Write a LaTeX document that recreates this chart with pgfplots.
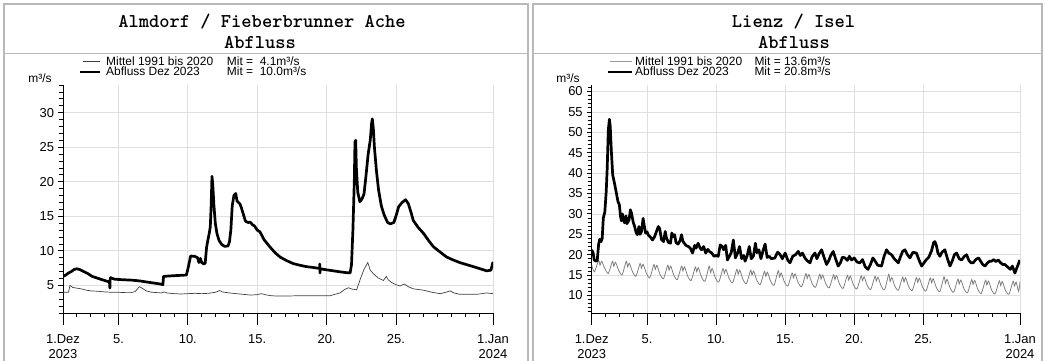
\documentclass[border=0pt]{standalone}
\usepackage{fontspec}
\setmainfont{Liberation Sans}
\usepackage{pgfplots}
\pgfplotsset{compat=1.18}

\pgfplotsset{
  myax/.style={
    scale only axis, height=228bp,
    axis x line=bottom, axis y line=left,
    axis line style={-, line width=0.9bp},
    xmin=1, xmax=32,
    xtick={1,5,10,15,20,25,32},
    xticklabels={{1.Dez\\2023},{5.},{10.},{15.},{20.},{25.},{1.Jan\\2024}},
    minor xtick={2,...,31},
    extra x ticks={1,5,10,15,20,25,32},
    extra x tick labels={},
    extra x tick style={major tick length=12bp, xmajorgrids=false, ymajorgrids=false},
    tick align=outside,
    major tick length=5bp, minor tick length=4bp,
    tick style={black, line width=0.8bp},
    xmajorgrids, ymajorgrids,
    grid style={gray!25, line width=0.7bp},
    x tick label style={align=center, font=\fontsize{13}{15}\selectfont, yshift=-13bp},
    y tick label style={font=\fontsize{13}{13}\selectfont, xshift=-0.5bp},
    /pgf/number format/assume math mode=true,
  }
}

\newcommand{\lgfont}{\fontsize{12}{12}\selectfont}
\newcommand{\ttl}{\ttfamily\bfseries\fontsize{19.6}{20}\selectfont}

\begin{document}
\begin{tikzpicture}[x=1bp,y=1bp]
\useasboundingbox (0,0) rectangle (1045,360);
% panel frames
\draw[gray!55, line width=1.3bp] (4,-5) -- (4,356) -- (528,356) -- (528,-5);
\draw[gray!55, line width=1.3bp] (4,306.5) -- (528,306.5);
\draw[gray!55, line width=1.3bp] (533,-5) -- (533,356) -- (1042,356) -- (1042,-5);
\draw[gray!55, line width=1.3bp] (533,306.5) -- (1042,306.5);
% titles
\node[font=\ttl] at (262,338.3) {Almdorf / Fieberbrunner Ache};
\node[font=\ttl] at (260,317.3) {Abfluss};
\node[font=\ttl] at (793.5,338.3) {Lienz / Isel};
\node[font=\ttl] at (794,317.3) {Abfluss};
% legends
\draw[black!75, line width=0.7bp] (82.7,298.3) -- (100,298.3);
\draw[black, line width=2.4bp] (80,288.3) -- (100,288.3);
\node[anchor=west, font=\lgfont, inner sep=0pt] at (106,298.8) {Mittel 1991 bis 2020};
\node[anchor=west, font=\lgfont, inner sep=0pt] at (106,288.3) {Abfluss Dez 2023};
\node[anchor=west, font=\lgfont, inner sep=0pt] at (226.7,298.8) {Mit =\ \ 4.1m³/s};
\node[anchor=west, font=\lgfont, inner sep=0pt] at (226.7,288.3) {Mit =\ \ 10.0m³/s};
\node[font=\lgfont, inner sep=0pt] at (40,282) {m³/s};
\draw[black!40, line width=0.8bp] (610,298.3) -- (631.7,298.3);
\draw[black, line width=2.4bp] (608,288.3) -- (631.7,288.3);
\node[anchor=west, font=\lgfont, inner sep=0pt] at (635,298.8) {Mittel 1991 bis 2020};
\node[anchor=west, font=\lgfont, inner sep=0pt] at (635,288.3) {Abfluss Dez 2023};
\node[anchor=west, font=\lgfont, inner sep=0pt] at (754.3,298.8) {Mit = 13.6m³/s};
\node[anchor=west, font=\lgfont, inner sep=0pt] at (754.3,288.3) {Mit = 20.8m³/s};
\node[font=\lgfont, inner sep=0pt] at (568,282) {m³/s};

% ---------------- Almdorf ----------------
\begin{axis}[myax, at={(63bp,47bp)}, anchor=south west, width=430bp,
  ymin=1, ymax=34, ytick={5,10,...,30}, minor ytick={1,...,34}]
\addplot[black!75, line width=0.7bp] coordinates {
(1.00,4.0)(1.40,4.0)(1.50,5.0)(1.70,4.7)(2.00,4.6)(2.30,4.5)(2.70,4.3)(3.00,4.2)
(3.50,4.15)(4.00,4.05)(4.50,4.0)(5.00,4.0)(5.50,3.95)(5.90,3.95)(6.20,4.1)(6.50,4.8)
(6.70,4.6)(7.00,4.2)(7.40,4.0)(7.80,3.95)(8.10,3.9)(8.30,4.05)(8.50,3.9)(9.00,3.8)
(9.50,3.75)(10.00,3.8)(10.50,3.85)(11.00,3.8)(11.50,3.85)(12.00,4.0)(12.30,4.25)
(12.50,4.05)(13.00,3.9)(13.50,3.8)(14.00,3.7)(14.50,3.6)(15.00,3.65)(15.30,3.8)
(15.70,3.6)(16.00,3.5)(16.50,3.45)(17.00,3.45)(18.00,3.5)(19.00,3.5)(20.00,3.5)
(20.25,3.5)(20.60,3.7)(20.97,3.9)(21.30,4.4)(21.57,4.65)(21.85,4.45)(22.17,4.37)
(22.45,6.0)(22.70,7.3)(22.97,8.3)(23.15,7.2)(23.37,6.7)(23.70,6.1)(24.10,5.7)
(24.30,6.3)(24.45,5.8)(24.70,5.4)(25.00,5.1)(25.30,4.9)(25.60,5.2)(25.90,4.8)
(26.26,4.5)(27.00,4.3)(27.60,4.0)(28.20,3.8)(28.60,4.0)(28.90,4.2)(29.20,3.9)
(29.60,3.7)(30.20,3.7)(30.80,3.7)(31.20,3.8)(31.55,3.9)(32.00,3.8)
};
\addplot[black, line width=2.7bp, line join=round] coordinates {
(1.00,6.3)(1.20,6.5)(1.40,6.8)(1.60,7.0)(1.80,7.3)(2.00,7.4)(2.20,7.3)(2.50,7.0)
(2.80,6.7)(3.10,6.3)(3.40,6.1)(3.70,5.9)(4.00,5.7)(4.35,5.5)(4.38,4.6)(4.40,6.1)
(4.45,6.1)(4.70,5.9)(5.00,5.85)(5.50,5.8)(6.00,5.75)(6.50,5.65)(7.00,5.5)(7.50,5.35)
(8.00,5.2)(8.20,5.1)(8.25,6.3)(8.60,6.35)(9.00,6.4)(9.50,6.45)(9.90,6.5)(10.05,7.8)
(10.20,9.25)(10.50,9.2)(10.70,9.0)(10.80,8.3)(10.90,8.9)(11.00,8.3)(11.15,8.1)
(11.25,8.2)(11.35,10.5)(11.45,11.6)(11.55,12.6)(11.62,13.5)(11.68,16.5)(11.74,20.8)
(11.80,19.5)(11.88,16.6)(11.98,14.0)(12.10,12.5)(12.25,11.5)(12.45,10.9)(12.65,10.65)
(12.90,10.7)(13.00,11.3)(13.10,13.0)(13.20,16.5)(13.32,18.0)(13.45,18.3)(13.55,17.2)
(13.65,17.0)(13.75,16.8)(13.85,16.3)(14.00,15.3)(14.15,14.3)(14.35,14.1)(14.50,14.15)
(14.65,13.8)(14.80,13.6)(15.00,13.0)(15.20,12.75)(15.50,11.6)(15.90,10.6)(16.30,9.7)
(16.65,9.1)(17.10,8.6)(17.60,8.15)(18.10,7.9)(18.57,7.7)(19.00,7.6)(19.50,7.45)
(19.51,8.1)(19.53,6.8)(19.55,7.4)(20.00,7.25)(20.50,7.1)(21.00,6.95)(21.40,6.85)
(21.70,6.8)(21.80,8.0)(21.90,13.0)(22.00,20.0)(22.05,25.8)(22.10,26.0)(22.15,22.0)
(22.25,18.5)(22.40,17.1)(22.55,17.5)(22.70,18.2)(22.85,21.0)(23.00,24.0)(23.15,26.0)
(23.25,28.5)(23.30,29.1)(23.38,27.5)(23.45,25.0)(23.60,21.5)(23.75,18.8)(23.95,16.5)
(24.15,15.2)(24.40,14.1)(24.60,13.9)(24.85,14.1)(25.00,15.0)(25.20,16.4)(25.45,17.0)
(25.70,17.4)(25.90,16.8)(26.10,15.5)(26.25,14.4)(26.60,13.4)(27.00,12.5)(27.35,11.5)
(27.70,10.6)(28.20,9.8)(28.66,9.1)(29.10,8.7)(29.60,8.3)(30.10,8.0)(30.60,7.7)
(31.00,7.45)(31.55,7.1)(31.85,7.2)(31.95,8.0)(32.00,8.4)
};
\end{axis}

% ---------------- Lienz ----------------
\begin{axis}[myax, at={(591.7bp,47bp)}, anchor=south west, width=428.3bp,
  ymin=5.7, ymax=61.6, ytick={10,15,...,60}, minor ytick={6,...,61}]
\addplot[black!50, line width=0.8bp, smooth, tension=0.4] coordinates {
(1.0,17.4)(1.2,15.8)(1.5,18.6)(1.6,17.4)(1.72,18.4)(1.95,16.6)
(2.2,15.4)(2.5,18.35)(2.6,17.15)(2.72,18.15)(2.95,16.2)
(3.2,15.05)(3.5,18.4)(3.6,17.0)(3.72,17.9)(3.95,15.85)
(4.2,14.7)(4.5,17.85)(4.6,16.65)(4.72,17.65)(4.95,15.5)
(5.2,14.3)(5.5,17.6)(5.6,16.4)(5.72,17.4)(5.95,15.1)
(6.2,14.1)(6.5,17.4)(6.6,16.2)(6.72,17.2)(6.95,14.9)
(7.2,13.9)(7.5,17.2)(7.6,16.0)(7.72,17.0)(7.95,14.7)
(8.2,13.7)(8.5,17.0)(8.6,15.8)(8.72,16.8)(8.95,14.5)
(9.2,13.5)(9.5,17.2)(9.6,15.6)(9.72,16.6)(9.95,14.3)
(10.2,13.3)(10.5,16.6)(10.6,15.4)(10.72,16.4)(10.95,14.1)
(11.2,13.1)(11.5,16.4)(11.6,15.2)(11.72,16.2)(11.95,13.9)
(12.2,12.9)(12.5,16.2)(12.6,15.0)(12.72,16.0)(12.95,13.7)
(13.2,12.7)(13.5,15.9)(13.6,14.7)(13.72,15.7)(13.95,13.5)
(14.2,12.5)(14.5,16.1)(14.6,14.5)(14.72,15.5)(14.95,13.3)
(15.2,12.3)(15.5,15.5)(15.6,14.3)(15.72,15.3)(15.95,13.1)
(16.2,12.15)(16.5,15.35)(16.6,14.15)(16.72,15.15)(16.95,12.95)
(17.2,12.0)(17.5,15.2)(17.6,14.0)(17.72,15.0)(17.95,12.8)
(18.2,11.9)(18.5,15.1)(18.6,13.9)(18.72,14.9)(18.95,12.7)
(19.2,11.75)(19.5,14.95)(19.6,13.75)(19.72,14.75)(19.95,12.55)
(20.2,11.6)(20.5,14.8)(20.6,13.6)(20.72,14.6)(20.95,12.4)
(21.2,11.5)(21.5,14.7)(21.6,13.5)(21.72,14.5)(21.95,12.3)
(22.2,11.4)(22.5,15.2)(22.6,13.4)(22.72,14.4)(22.95,12.2)
(23.2,11.3)(23.5,14.5)(23.6,13.3)(23.72,14.3)(23.95,12.1)
(24.2,11.2)(24.5,14.4)(24.6,13.2)(24.72,14.2)(24.95,12.0)
(25.2,11.1)(25.5,14.3)(25.6,13.1)(25.72,14.1)(25.95,11.9)
(26.2,10.95)(26.5,14.6)(26.6,12.95)(26.72,13.95)(26.95,11.75)
(27.2,10.8)(27.5,14.0)(27.6,12.8)(27.72,13.8)(27.95,11.6)
(28.2,10.65)(28.5,13.9)(28.6,12.7)(28.72,13.7)(28.95,11.45)
(29.2,10.5)(29.5,13.75)(29.6,12.55)(29.72,13.55)(29.95,11.3)
(30.2,10.4)(30.5,13.6)(30.6,12.4)(30.72,13.4)(30.95,11.2)
(31.2,10.3)(31.5,13.5)(31.6,12.3)(31.72,13.3)(31.9,11.0)(32.0,13.4)
};
\addplot[black, line width=2.7bp, line join=round] coordinates {
(1.00,21.2)(1.10,20.5)(1.18,18.7)(1.30,18.4)(1.40,18.6)(1.50,22.5)(1.58,23.8)(1.68,23.2)
(1.76,24.0)(1.84,29.0)(1.95,30.5)(2.05,35.5)(2.12,41)(2.20,50.5)(2.28,53.2)(2.34,51.5)
(2.42,45.5)(2.52,39.5)(2.65,37.5)(2.78,35.2)(2.90,33.0)(3.00,32.3)(3.08,29.5)(3.15,28.3)
(3.22,30.0)(3.30,28.4)(3.38,27.8)(3.48,29.5)(3.55,27.6)(3.70,28.5)(3.80,31.0)(3.88,30.2)
(4.00,28.0)(4.10,27.0)(4.20,25.6)(4.30,24.9)(4.42,26.9)(4.50,25.0)(4.60,25.6)(4.72,28.9)
(4.80,27.2)(4.90,25.3)(5.00,25.6)(5.10,24.8)(5.25,24.3)(5.40,23.6)(5.55,24.4)(5.70,25.8)
(5.82,26.9)(5.92,26.4)(6.05,23.7)(6.20,23.2)(6.32,25.7)(6.40,24.2)(6.55,23.0)(6.70,22.8)
(6.80,25.3)(6.90,24.4)(7.00,24.9)(7.10,23.0)(7.25,22.6)(7.40,23.5)(7.50,24.9)(7.60,23.3)
(7.70,22.8)(7.85,22.2)(8.00,22.0)(8.15,21.5)(8.30,20.4)(8.45,22.3)(8.55,21.6)(8.70,22.8)
(8.85,21.6)(8.95,21.2)(9.10,22.0)(9.25,20.4)(9.40,21.3)(9.55,20.7)(9.70,20.4)(9.85,19.6)
(10.00,19.8)(10.16,19.6)(10.30,22.4)(10.45,22.0)(10.55,21.2)(10.70,22.3)(10.82,18.7)
(10.95,19.5)(11.10,20.5)(11.25,23.6)(11.40,19.2)(11.55,20.3)(11.70,22.0)(11.85,19.0)
(12.00,19.8)(12.10,18.4)(12.25,19.7)(12.40,22.0)(12.55,19.0)(12.70,19.6)(12.85,22.8)
(12.95,20.5)(13.10,21.2)(13.25,19.0)(13.40,21.0)(13.55,22.6)(13.70,19.3)(13.85,19.6)
(14.00,19.0)(14.26,19.2)(14.45,20.6)(14.60,20.2)(14.80,19.0)(15.00,20.4)(15.20,18.6)
(15.35,18.0)(15.55,19.6)(15.75,20.0)(15.95,20.8)(16.10,19.8)(16.25,20.4)(16.43,19.2)
(16.60,18.5)(16.80,18.0)(16.95,19.5)(17.16,20.4)(17.30,19.0)(17.45,20.2)(17.64,21.2)
(17.80,19.5)(18.00,17.6)(18.15,18.5)(18.30,19.8)(18.48,20.8)(18.65,19.0)(18.84,17.2)
(19.00,18.0)(19.15,19.4)(19.33,19.2)(19.50,18.6)(19.65,19.6)(19.81,18.7)(20.00,19.2)
(20.20,18.2)(20.41,18.0)(20.60,18.8)(20.80,17.0)(21.00,16.4)(21.20,17.8)(21.35,19.2)
(21.50,18.5)(21.70,17.4)(21.98,17.2)(22.15,19.5)(22.34,21.2)(22.50,20.4)(22.70,20.0)
(22.90,19.0)(23.19,18.0)(23.35,19.5)(23.50,20.8)(23.67,21.2)(23.85,20.0)(24.03,19.2)
(24.25,20.6)(24.50,20.4)(24.70,18.6)(24.88,17.2)(25.05,18.0)(25.20,18.7)(25.40,19.4)
(25.60,21.0)(25.75,23.0)(25.84,23.2)(25.95,22.2)(26.05,20.5)(26.20,19.6)(26.35,20.6)
(26.56,21.2)(26.75,19.0)(26.93,17.2)(27.10,18.5)(27.25,20.0)(27.41,20.4)(27.60,19.0)
(27.77,18.7)(27.95,19.5)(28.13,20.0)(28.30,18.6)(28.45,18.0)(28.61,18.0)(28.80,18.8)
(29.00,19.2)(29.15,18.4)(29.30,17.6)(29.46,17.2)(29.65,18.0)(29.80,18.4)(29.94,18.4)
(30.10,18.8)(30.25,18.3)(30.42,18.7)(30.60,18.0)(30.75,17.6)(30.90,17.6)(31.10,17.0)
(31.30,16.4)(31.45,17.2)(31.63,15.5)(31.80,17.0)(31.99,18.7)
};
\end{axis}
\end{tikzpicture}
\end{document}
